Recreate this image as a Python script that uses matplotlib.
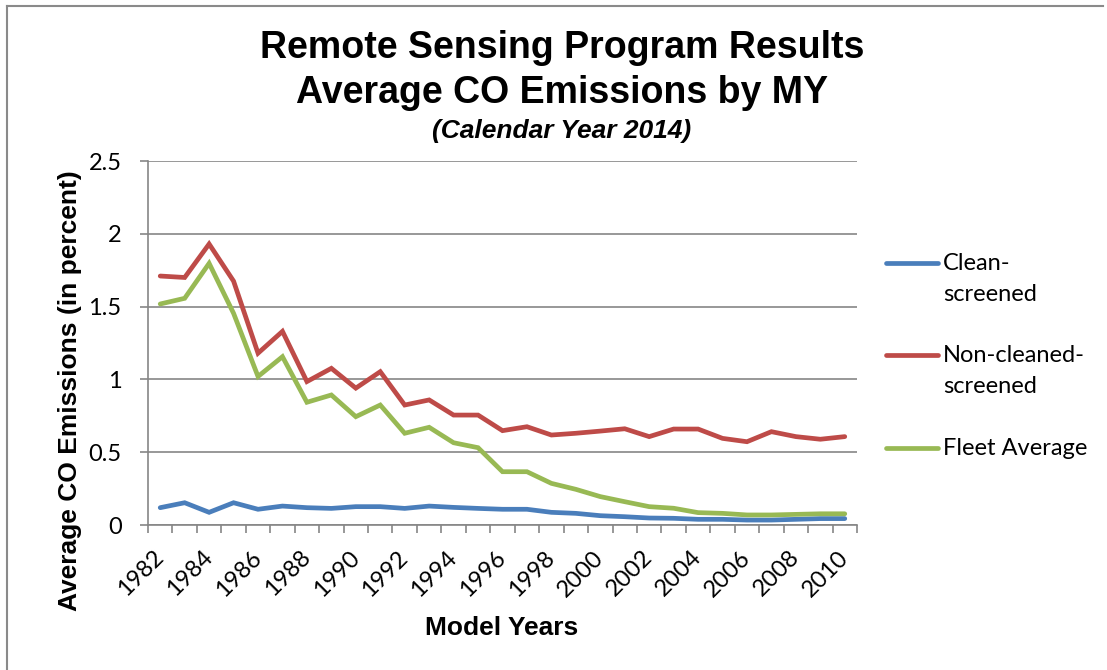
import matplotlib.pyplot as plt
from matplotlib.lines import Line2D

# Model years (categories) and average CO emissions (percent)
years = list(range(1982, 2011))
clean_screened = [0.119, 0.153, 0.087, 0.153, 0.108, 0.130, 0.119, 0.114, 0.126, 0.126,
                  0.114, 0.130, 0.121, 0.114, 0.108, 0.108, 0.087, 0.080, 0.064, 0.057,
                  0.048, 0.046, 0.039, 0.039, 0.034, 0.034, 0.039, 0.044, 0.044]
non_cleaned = [1.71, 1.70, 1.93, 1.675, 1.18, 1.33, 0.985, 1.076, 0.94, 1.053,
               0.824, 0.859, 0.755, 0.755, 0.648, 0.675, 0.618, 0.630, 0.645, 0.661,
               0.607, 0.659, 0.659, 0.595, 0.572, 0.641, 0.607, 0.589, 0.607]
fleet_avg = [1.518, 1.557, 1.797, 1.454, 1.02, 1.156, 0.843, 0.893, 0.744, 0.824,
             0.630, 0.671, 0.565, 0.531, 0.366, 0.366, 0.286, 0.245, 0.195, 0.160,
             0.126, 0.115, 0.085, 0.080, 0.069, 0.069, 0.073, 0.077, 0.077]
series_names = ['Clean-\nscreened', 'Non-cleaned-\nscreened', 'Fleet Average']
colors = ['#4A7EBB', '#BE4B48', '#98B954']

W, H = 1107, 670
grid_col = '#868686'
tick_font = 'Lato'

fig = plt.figure(figsize=(W / 100, H / 100), dpi=100)
# chart area border (only left and top edges fall inside the original crop)
fig.add_artist(Line2D([7 / W, 7 / W], [0, 1 - 6 / H], transform=fig.transFigure,
                      color='#8a8a8a', linewidth=1.5))
fig.add_artist(Line2D([7 / W, 1103 / W], [1 - 6 / H, 1 - 6 / H], transform=fig.transFigure,
                      color='#8a8a8a', linewidth=1.5))

ax = fig.add_axes([148 / W, 1 - 525 / H, (857 - 148) / W, (525 - 161) / H])

idx = list(range(len(years)))
for vals, c in zip([clean_screened, non_cleaned, fleet_avg], colors):
    ax.plot(idx, vals, color=c, linewidth=3.4, solid_capstyle='round', solid_joinstyle='miter')

ax.set_ylim(0, 2.5)
ax.set_xlim(-0.5, len(years) - 0.5)
ax.set_yticks([0, 0.5, 1, 1.5, 2, 2.5])
ax.set_yticklabels(['0', '0.5', '1', '1.5', '2', '2.5'], fontsize=17, family=tick_font)
ax.yaxis.grid(True, color=grid_col, linewidth=1.2)
ax.set_axisbelow(True)
ax.tick_params(axis='y', length=6, width=1.2, color=grid_col, pad=13)

# category axis: ticks at boundaries, labels on every other category
ax.set_xticks([i - 0.5 for i in range(len(years) + 1)])
ax.set_xticklabels([])
ax.tick_params(axis='x', which='major', length=6, width=1.2, color=grid_col)
ax.set_xticks(idx[::2], minor=True)
ax.set_xticklabels([str(y) for y in years[::2]], minor=True, rotation=45,
                   ha='right', va='center', rotation_mode='anchor',
                   fontsize=17, family=tick_font)
ax.tick_params(axis='x', which='minor', length=0, pad=21)

for side in ['top', 'right']:
    ax.spines[side].set_visible(False)
for side in ['left', 'bottom']:
    ax.spines[side].set_color(grid_col)
    ax.spines[side].set_linewidth(1.2)

# titles
fig.text(562 / W, 1 - 48 / H, 'Remote Sensing Program Results', ha='center', va='center',
         fontsize=27, fontweight='bold', family='Liberation Sans')
fig.text(562 / W, 1 - 93 / H, 'Average CO Emissions by MY', ha='center', va='center',
         fontsize=27, fontweight='bold', family='Liberation Sans')
fig.text(562 / W, 1 - 131 / H, '(Calendar Year 2014)', ha='center', va='center',
         fontsize=19, fontweight='bold', style='italic', family='Liberation Sans')
fig.text(502 / W, 1 - 628 / H, 'Model Years', ha='center', va='center',
         fontsize=19, fontweight='bold', family='Liberation Sans')
fig.text(70 / W, 1 - 391 / H, 'Average CO Emissions (in percent)', ha='center', va='center',
         rotation=90, fontsize=19, fontweight='bold', family='Liberation Sans')

# legend drawn by hand so the key sits on the first text line like Excel does
leg_y = [263, 355, 448]
for name, c, y in zip(series_names, colors, leg_y):
    fig.add_artist(Line2D([886 / W, 938 / W], [1 - y / H, 1 - y / H], transform=fig.transFigure,
                          color=c, linewidth=3.4, solid_capstyle='round'))
    fig.text(943 / W, 1 - (y - 10) / H, name, ha='left', va='top', fontsize=17,
             family=tick_font, linespacing=1.6)

fig.savefig('out.png', dpi=100)
